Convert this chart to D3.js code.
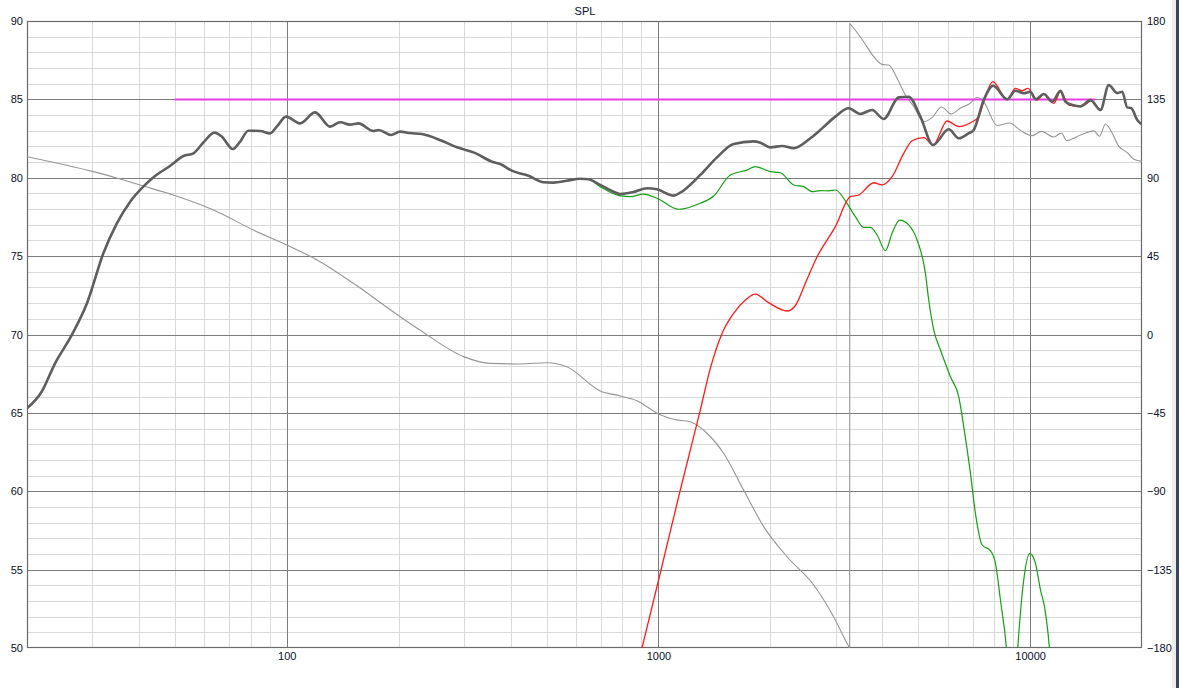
<!DOCTYPE html>
<html>
<head>
<meta charset="utf-8">
<script src="https://cdn.jsdelivr.net/npm/d3@7"></script>
<style>
  html, body { margin: 0; padding: 0; background: #fff; }
  svg { display: block; }
  text { font-family: "Liberation Sans", Arial, sans-serif; font-size: 11px; fill: #0a0f2a; }
</style>
</head>
<body>
<svg id="chart" width="1179" height="688"></svg>
<script>
// ---------- data ----------
const titleText = "SPL";
const leftTicks = [50, 55, 60, 65, 70, 75, 80, 85, 90];
const rightTicks = [-180, -135, -90, -45, 0, 45, 90, 135, 180];
const xTickLabels = [100, 1000, 10000];

// total SPL (thick dark gray)
const splFreq = [20, 21.9, 23.8, 26.4, 29.0, 32.1, 34.9, 37.9, 41.1, 44.2, 48.5, 52.7, 56.1, 59.6, 63.9, 66.9, 71.6, 74.9, 78.8, 84.8, 90.2, 94.0, 99.6, 108.6, 119.2, 130.8, 139.2, 148.1, 155.9, 171.1, 176.5, 190.6, 201.8, 214.8, 230.8, 261.4, 287, 318, 360, 375, 403, 447, 491, 522, 567, 616, 649, 697, 757, 789, 857, 932, 991, 1098, 1145, 1296, 1437, 1593, 1803, 1880, 2000, 2151, 2311, 2563, 2756, 2992, 3249, 3494, 3756, 4036, 4430, 4712, 5067, 5482, 6040, 6426, 6836, 7051, 7502, 7954, 8675, 9132, 9612, 10024, 10338, 10886, 11468, 12072, 12452, 13000, 13664, 14536, 15466, 16278, 17154, 17694, 18248, 18700, 19400, 20000];
const splDb = [65.29, 66.35, 68.16, 69.97, 71.99, 75.18, 77.09, 78.47, 79.43, 80.11, 80.75, 81.39, 81.56, 82.24, 82.88, 82.62, 81.83, 82.30, 83.0, 82.98, 82.83, 83.26, 83.90, 83.47, 84.17, 83.26, 83.54, 83.39, 83.47, 82.98, 83.05, 82.73, 82.94, 82.85, 82.79, 82.36, 81.94, 81.62, 80.99, 80.88, 80.45, 80.13, 79.71, 79.69, 79.81, 79.94, 79.90, 79.54, 79.11, 78.96, 79.09, 79.33, 79.26, 78.86, 79.05, 80.18, 81.30, 82.15, 82.32, 82.24, 81.94, 82.03, 81.88, 82.52, 83.15, 83.90, 84.43, 84.07, 84.32, 83.75, 85.13, 85.17, 83.90, 82.09, 83.09, 82.52, 82.84, 83.05, 84.96, 85.87, 85.00, 85.55, 85.39, 85.49, 85.00, 85.34, 84.85, 85.55, 84.85, 84.64, 84.55, 84.95, 84.32, 85.92, 85.40, 85.49, 84.49, 84.45, 83.70, 83.40];

// woofer (green)
const wooferFreq = [491, 522, 567, 616, 649, 697, 789, 840, 912, 991, 1133, 1296, 1408, 1561, 1731, 1822, 2000, 2128, 2311, 2458, 2591, 2726, 2870, 2992, 3216, 3386, 3566, 3718, 3876, 4080, 4252, 4458, 4712, 4966, 5228, 5336, 5504, 5738, 6102, 6426, 6628, 6910, 7126, 7430, 7820, 8068, 8320, 8636, 8964, 9264, 9612, 9978, 10338, 10664, 10930, 11272, 11700];
const wooferDb = [79.71, 79.69, 79.81, 79.94, 79.90, 79.43, 78.84, 78.79, 78.96, 78.69, 77.99, 78.37, 78.84, 80.18, 80.49, 80.71, 80.39, 80.32, 79.54, 79.43, 79.11, 79.18, 79.16, 79.22, 78.37, 77.52, 76.84, 76.84, 76.35, 75.35, 76.46, 77.30, 76.99, 76.03, 73.90, 72.20, 70.29, 69.01, 67.31, 66.03, 64.12, 61.14, 58.59, 56.57, 56.21, 55.40, 53.06, 50.0, 44.0, 50.0, 54.34, 56.04, 55.40, 53.70, 52.64, 50.0, 44.0];

// tweeter (red)
const tweeterFreq = [800, 903, 1001, 1145, 1296, 1379, 1483, 1593, 1713, 1822, 1979, 2218, 2336, 2485, 2672, 2992, 3284, 3457, 3795, 3996, 4252, 4570, 4814, 5174, 5482, 5980, 6426, 6910, 7272, 7580, 7934, 8675, 9132, 9518, 9856, 10448, 10886, 11582, 12072, 12706, 13664, 14536];
const tweeterDb = [44.9, 50.0, 54.34, 60.08, 65.18, 67.84, 70.07, 71.35, 72.20, 72.58, 72.03, 71.50, 71.85, 73.27, 74.96, 76.88, 78.79, 78.90, 79.68, 79.54, 80.07, 81.56, 82.36, 82.56, 82.09, 83.62, 83.26, 83.51, 83.90, 85.17, 86.13, 85.00, 85.70, 85.55, 85.70, 84.96, 85.34, 84.75, 85.49, 84.64, 84.55, 84.92];

// phase of total (thin gray, right axis, degrees)
const phaseFreq = [20, 30.2, 35.6, 40.3, 49.5, 63.5, 81.3, 100, 123, 151, 202, 228, 299, 353, 425, 501, 567, 697, 789, 875, 1001, 1098, 1218, 1351, 1497, 1695, 1919, 2218, 2616, 2960, 3236, 3270, 3272, 3298, 3566, 3795, 3996, 4164, 4386, 4618, 4860, 5174, 5448, 5772, 6140, 6494, 6868, 7202, 7502, 8152, 8798, 9418, 10124, 10728, 11582, 12146, 12530, 13664, 14838, 15370, 15952, 16456, 17292, 18248, 19008, 20000];
const phaseDeg = [102.1, 93.5, 89.3, 85.8, 80.1, 71.5, 60.0, 51.4, 41.8, 29.4, 10.2, 2.6, -12.7, -16.6, -16.9, -16.2, -18.5, -32.4, -35.3, -38.0, -45.6, -48.7, -50.1, -56.7, -68.2, -89.3, -110.3, -127.6, -143.8, -162.0, -178.3, -180, 178.5, 177.7, 168.1, 159.5, 155.1, 154.7, 147.1, 137.5, 131.0, 122.2, 124.5, 130.6, 126.6, 130.0, 132.5, 136.1, 133.6, 120.0, 121.4, 117.2, 114.2, 116.6, 113.4, 115.7, 111.4, 114.5, 116.9, 113.8, 120.9, 117.4, 108.3, 104.4, 100.6, 99.4];

// target reference line (magenta)
const refFreq = [50, 15000];
const refDb = [85, 85];

// ---------- layout ----------
const pL = 27, pR = 1142, pT = 21, pB = 648;
const svg = d3.select("#chart");

const x = d3.scaleLog().domain([20, 20000]).range([pL, pR]);
const y = d3.scaleLinear().domain([50, 90]).range([pB, pT]);
const yPh = d3.scaleLinear().domain([-180, 180]).range([pB, pT]);

svg.append("rect").attr("width", 1179).attr("height", 688).attr("fill", "#fff");

// clip
svg.append("defs").append("clipPath").attr("id", "plotClip")
  .append("rect").attr("x", pL).attr("y", pT).attr("width", pR - pL).attr("height", pB - pT);

// grid
const grid = svg.append("g");
const minorX = [];
[10, 100, 1000, 10000].forEach(dec => [2,3,4,5,6,7,8,9].forEach(m => {
  const f = dec * m; if (f > 20 && f < 20000) minorX.push(f);
}));
const majorX = [100, 1000, 10000];
const minorY = d3.range(51, 90, 1).filter(v => v % 5 !== 0);
const majorY = leftTicks.filter(v => v > 50 && v < 90);

grid.selectAll(".mx").data(minorX).join("line")
  .attr("x1", d => Math.round(x(d)) + 0.5).attr("x2", d => Math.round(x(d)) + 0.5)
  .attr("y1", pT).attr("y2", pB).attr("stroke", "#d9d9d9").attr("stroke-width", 1);
grid.selectAll(".my").data(minorY).join("line")
  .attr("y1", d => Math.round(y(d)) + 0.5).attr("y2", d => Math.round(y(d)) + 0.5)
  .attr("x1", pL).attr("x2", pR).attr("stroke", "#d9d9d9").attr("stroke-width", 1);
grid.selectAll(".Mx").data(majorX).join("line")
  .attr("x1", d => Math.round(x(d)) + 0.5).attr("x2", d => Math.round(x(d)) + 0.5)
  .attr("y1", pT).attr("y2", pB).attr("stroke", "#7c7c7c").attr("stroke-width", 1);
grid.selectAll(".My").data(majorY).join("line")
  .attr("y1", d => Math.round(y(d)) + 0.5).attr("y2", d => Math.round(y(d)) + 0.5)
  .attr("x1", pL).attr("x2", pR).attr("stroke", "#7c7c7c").attr("stroke-width", 1);

// border
svg.append("rect").attr("x", pL + 0.5).attr("y", pT + 0.5)
  .attr("width", pR - pL - 1).attr("height", pB - pT - 1)
  .attr("fill", "none").attr("stroke", "#6a6a6a").attr("stroke-width", 1.2);

// curves
const plot = svg.append("g").attr("clip-path", "url(#plotClip)");
const zip = (fs, vs) => fs.map((f, i) => [f, vs[i]]);
const lineDb = d3.line().x(d => x(d[0])).y(d => y(d[1])).curve(d3.curveMonotoneX);
const linePh = d3.line().x(d => x(d[0])).y(d => yPh(d[1])).curve(d3.curveMonotoneX);

plot.append("path").datum(zip(phaseFreq, phaseDeg)).attr("d", linePh)
  .attr("fill", "none").attr("stroke", "#959595").attr("stroke-width", 1.1);
plot.append("path").datum(zip(refFreq, refDb)).attr("d", lineDb)
  .attr("fill", "none").attr("stroke", "#e83ee8").attr("stroke-width", 2);
plot.append("path").datum(zip(wooferFreq, wooferDb)).attr("d", lineDb)
  .attr("fill", "none").attr("stroke", "#14a014").attr("stroke-width", 1.2);
plot.append("path").datum(zip(tweeterFreq, tweeterDb)).attr("d", lineDb)
  .attr("fill", "none").attr("stroke", "#ff1a1a").attr("stroke-width", 1.3);
plot.append("path").datum(zip(splFreq, splDb)).attr("d", lineDb)
  .attr("fill", "none").attr("stroke", "#5e5e5e").attr("stroke-width", 2.6)
  .attr("stroke-linejoin", "round");

// axes (labels only)
const axL = svg.append("g").attr("transform", `translate(${pL},0)`)
  .call(d3.axisLeft(y).tickValues(leftTicks).tickSize(0).tickPadding(4));
const axR = svg.append("g").attr("transform", `translate(${pR},0)`)
  .call(d3.axisRight(yPh).tickValues(rightTicks).tickSize(0).tickPadding(5));
const axB = svg.append("g").attr("transform", `translate(0,${pB})`)
  .call(d3.axisBottom(x).tickValues(xTickLabels).tickFormat(d3.format("d")).tickSize(0).tickPadding(4));
[axL, axR, axB].forEach(a => {
  a.select(".domain").remove();
  a.selectAll("text").attr("font-family", null).attr("font-size", null).attr("fill", "#0a0f2a");
});

// title
svg.append("text").attr("x", 585).attr("y", 15).attr("text-anchor", "middle").text(titleText);

// window edge at right
svg.append("rect").attr("x", 1172).attr("y", 0).attr("width", 4).attr("height", 688).attr("fill", "#ececec");
svg.append("rect").attr("x", 1176).attr("y", 0).attr("width", 3).attr("height", 688).attr("fill", "#3a4658");
</script>
</body>
</html>
